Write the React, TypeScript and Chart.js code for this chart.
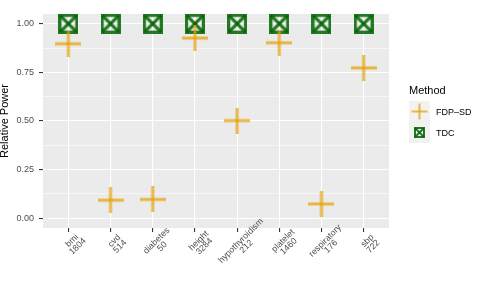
import React, { useEffect, useRef } from 'react';
import { Chart, registerables } from 'chart.js';
Chart.register(...registerables);

const categories = ['bmi', 'cvd', 'diabetes', 'height', 'hypothyroidism', 'platelet', 'respiratory', 'sbp'];
const sampleSizes = ['1804', '514', '50', '3284', '212', '1460', '176', '722'];
const fdpSd = [0.897, 0.093, 0.097, 0.926, 0.502, 0.902, 0.074, 0.773];
const tdc = [1, 1, 1, 1, 1, 1, 1, 1];
const yMajorTicks = [0, 0.25, 0.5, 0.75, 1];
const yMinorTicks = [0.125, 0.375, 0.625, 0.875];
const seriesNames = ['FDP–SD', 'TDC'];
const legendTitle = 'Method';
const yTitle = 'Relative Power';

const FONT = '"Liberation Sans", Arial, Helvetica, sans-serif';
const GOLD = 'rgba(230,159,0,0.72)';
const GREEN = 'rgba(0,100,0,0.85)';

function makePlus(size: number, lw: number, color: string) {
  const c = document.createElement('canvas');
  c.width = size; c.height = size;
  const g = c.getContext('2d')!;
  g.strokeStyle = color; g.lineWidth = lw; g.lineCap = 'butt';
  g.beginPath(); g.moveTo(0, size / 2); g.lineTo(size, size / 2); g.stroke();
  g.beginPath(); g.moveTo(size / 2, 0); g.lineTo(size / 2, size); g.stroke();
  return c;
}

function makeSquareCross(size: number, lw: number, color: string) {
  const c = document.createElement('canvas');
  c.width = size; c.height = size;
  const g = c.getContext('2d')!;
  g.strokeStyle = color; g.lineWidth = lw;
  const h = lw / 2;
  g.strokeRect(h, h, size - lw, size - lw);
  g.beginPath(); g.moveTo(h, h); g.lineTo(size - h, size - h); g.stroke();
  g.beginPath(); g.moveTo(size - h, h); g.lineTo(h, size - h); g.stroke();
  return c;
}

const panelBg = {
  id: 'panelBg',
  beforeDraw(chart: any) {
    const { ctx, chartArea } = chart;
    ctx.save();
    ctx.fillStyle = '#EBEBEB';
    ctx.fillRect(chartArea.left, chartArea.top, chartArea.right - chartArea.left, chartArea.bottom - chartArea.top);
    ctx.restore();
  },
};

// Rotated, centred two-line x-axis labels (ggplot style), positioned via the x scale
const xLabels = {
  id: 'xLabels',
  afterDraw(chart: any) {
    const { ctx, chartArea } = chart;
    const xs = chart.scales.x;
    const lh = 8;
    const ang = -Math.PI / 4;
    ctx.save();
    ctx.fillStyle = '#4D4D4D';
    ctx.font = `8.8px ${FONT}`;
    ctx.textAlign = 'center';
    ctx.textBaseline = 'middle';
    categories.forEach((cat, i) => {
      const px = xs.getPixelForValue(i + 1);
      const ax = px + 1;
      const ay = chartArea.bottom + 10;
      ctx.save();
      ctx.translate(ax, ay);
      ctx.rotate(ang);
      [cat, sampleSizes[i]].forEach((line, k) => {
        ctx.fillText(line, 0, lh / 2 + k * lh);
      });
      ctx.restore();
    });
    ctx.restore();
  },
};

function LegendPlus() {
  return (
    <svg width={21} height={21} style={{ display: 'block' }}>
      <line x1={2.5} y1={10.5} x2={18.5} y2={10.5} stroke={GOLD} strokeWidth={2} />
      <line x1={10.5} y1={2.5} x2={10.5} y2={18.5} stroke={GOLD} strokeWidth={2} />
    </svg>
  );
}

function LegendSquare() {
  return (
    <svg width={21} height={21} style={{ display: 'block' }}>
      <rect x={6} y={6} width={9} height={9} fill="none" stroke={GREEN} strokeWidth={2} />
      <line x1={6} y1={6} x2={15} y2={15} stroke={GREEN} strokeWidth={2} />
      <line x1={15} y1={6} x2={6} y2={15} stroke={GREEN} strokeWidth={2} />
    </svg>
  );
}

export default function App() {
  const ref = useRef<HTMLCanvasElement>(null);
  useEffect(() => {
    const plusImg = makePlus(26, 3, GOLD);
    const sqImg = makeSquareCross(20, 3.2, GREEN);
    const allTicks = [...yMajorTicks, ...yMinorTicks].sort((a, b) => a - b);
    const isMajor = (v: number) => yMajorTicks.some((m) => Math.abs(m - v) < 1e-9);
    const chart = new Chart(ref.current!, {
      type: 'scatter',
      data: {
        datasets: [
          {
            label: seriesNames[0],
            data: fdpSd.map((v, i) => ({ x: i + 1, y: v })),
            pointStyle: plusImg as any,
            pointRadius: 13,
            clip: false as any,
          },
          {
            label: seriesNames[1],
            data: tdc.map((v, i) => ({ x: i + 1, y: v })),
            pointStyle: sqImg as any,
            pointRadius: 10,
            clip: false as any,
          },
        ],
      },
      options: {
        animation: false,
        responsive: false,
        events: [],
        layout: { padding: { left: 0, top: 0, right: 96, bottom: 0 } },
        plugins: { legend: { display: false }, tooltip: { enabled: false } },
        scales: {
          x: {
            type: 'linear',
            min: 0.4,
            max: 8.6,
            afterBuildTicks: (s: any) => { s.ticks = categories.map((_, i) => ({ value: i + 1 })); },
            afterFit: (s: any) => { s.height = 75; s.paddingLeft = 0; s.paddingRight = 0; },
            border: { display: false },
            grid: { color: '#FFFFFF', lineWidth: 1.1, tickLength: 4, tickColor: '#333333' },
            ticks: { display: false },
          },
          y: {
            type: 'linear',
            min: -0.05,
            max: 1.05,
            afterBuildTicks: (s: any) => { s.ticks = allTicks.map((v) => ({ value: v })); },
            afterFit: (s: any) => { s.width = 43; s.paddingTop = 0; s.paddingBottom = 0; },
            border: { display: false },
            grid: {
              color: '#FFFFFF',
              lineWidth: (c: any) => (isMajor(c.tick.value) ? 1.1 : 0.55),
              tickLength: 4,
              tickColor: (c: any) => (isMajor(c.tick.value) ? '#333333' : 'rgba(0,0,0,0)'),
            },
            title: {
              display: true,
              text: yTitle,
              color: '#000000',
              font: { family: FONT, size: 11 },
              padding: { top: -1.5, bottom: 0 },
            },
            ticks: {
              padding: 5,
              color: '#4D4D4D',
              font: { family: FONT, size: 9 },
              callback: (v: any) => (isMajor(Number(v)) ? Number(v).toFixed(2) : ''),
            },
          },
        },
      },
      plugins: [panelBg, xLabels],
    });
    return () => chart.destroy();
  }, []);

  return (
    <div style={{ position: 'fixed', left: 0, top: 0, width: 485, height: 303, background: '#FFFFFF', fontFamily: FONT }}>
      <canvas ref={ref} width={485} height={303} style={{ position: 'absolute', left: 0, top: 0 }} />
      <div style={{ position: 'absolute', left: 409, top: 84, fontSize: 11, lineHeight: '13px', color: '#000' }}>{legendTitle}</div>
      <div style={{ position: 'absolute', left: 409, top: 101 }}>
        {[LegendPlus, LegendSquare].map((Key, i) => (
          <div key={i} style={{ display: 'flex', alignItems: 'center', height: 21 }}>
            <div style={{ width: 21, height: 21, background: '#F2F2F2' }}><Key /></div>
            <div style={{ marginLeft: 6, fontSize: 9, color: '#000' }}>{seriesNames[i]}</div>
          </div>
        ))}
      </div>
    </div>
  );
}
